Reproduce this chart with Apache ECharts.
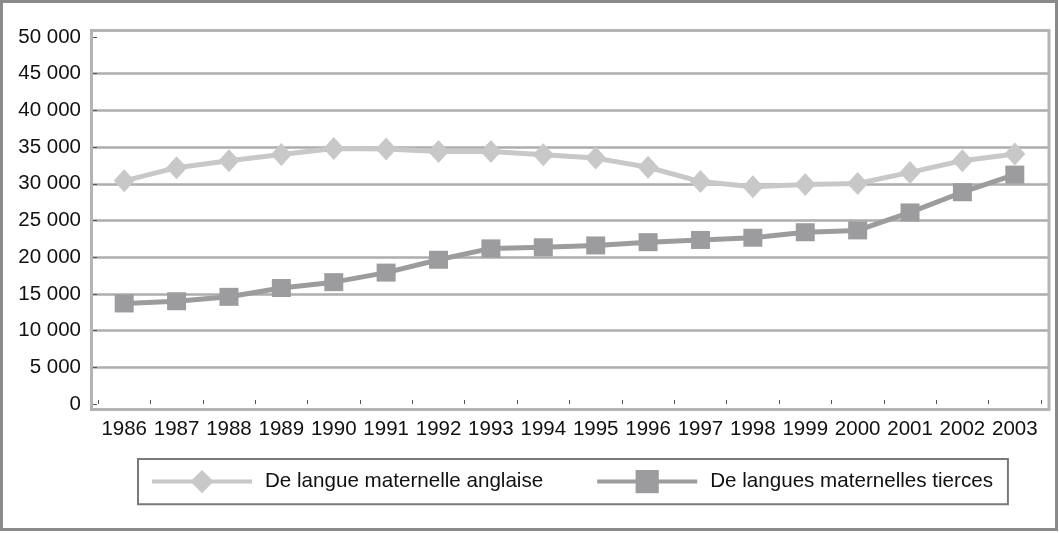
<!DOCTYPE html>
<html>
<head>
<meta charset="utf-8">
<script src="https://cdn.jsdelivr.net/npm/echarts@6/dist/echarts.min.js"></script>
<style>
html,body{margin:0;padding:0;background:#fff;}
#chart{width:1059px;height:533px;}
</style>
</head>
<body>
<div id="chart"></div>
<script>
const years = ['1986','1987','1988','1989','1990','1991','1992','1993','1994','1995','1996','1997','1998','1999','2000','2001','2002','2003'];
const anglaise = [30400,32200,33150,34000,34800,34750,34400,34400,33950,33500,32250,30300,29600,29900,30050,31550,33150,34050];
const tierces = [13700,14000,14600,15800,16600,17900,19650,21200,21350,21600,22050,22350,22650,23400,23650,26100,28850,31250];
const seriesNames = ['De langue maternelle anglaise','De langues maternelles tierces'];
const yMin = 0, yMax = 50000, yStep = 5000;

const fmt = v => String(v).replace(/\B(?=(\d{3})+(?!\d))/g, ' ');
const FONT = '"Liberation Sans", Arial, sans-serif';

const chart = echarts.init(document.getElementById('chart'), null, {renderer:'canvas'});
chart.setOption({
  animation:false,
  backgroundColor:'#ffffff',
  textStyle:{fontFamily:FONT},
  grid:[
    {left:98, right:18, top:37, bottom:129, containLabel:false},
    {left:91, right:11, top:37, bottom:129, containLabel:false}
  ],
  graphic:[
    {type:'rect', shape:{x:1.5, y:1.5, width:1055, height:528}, style:{fill:'none', stroke:'#8a8a8a', lineWidth:3}, z:100},
    {type:'rect', shape:{x:91.5, y:30.5, width:957.5, height:379}, style:{fill:'none', stroke:'#b4b4b4', lineWidth:3}, z:1}
  ],
  xAxis:[
    {type:'category', gridIndex:0, data:years, boundaryGap:true, offset:5,
     axisLine:{show:false},
     axisTick:{show:true, inside:true, length:4, lineStyle:{color:'#555', width:1}},
     axisLabel:{color:'#111', fontSize:20.5, fontFamily:FONT, margin:10, interval:0},
     splitLine:{show:false}},
    {type:'value', gridIndex:1, show:false, min:0, max:1}
  ],
  yAxis:[
    {type:'value', gridIndex:0, min:yMin, max:yMax, interval:yStep, offset:7,
     axisLine:{show:false},
     axisTick:{show:true, inside:true, length:6, lineStyle:{color:'#555', width:1}},
     axisLabel:{color:'#111', fontSize:20.5, fontFamily:FONT, margin:10, formatter:fmt},
     splitLine:{show:false}},
    {type:'value', gridIndex:1, min:yMin, max:yMax, interval:yStep,
     axisLine:{show:false}, axisTick:{show:false}, axisLabel:{show:false},
     splitLine:{show:true, showMinLine:false, showMaxLine:false, lineStyle:{color:'#adadad', width:2.5}}}
  ],
  legend:{
    show:true, left:138, top:459,
    padding:[11,15,11,12],
    borderColor:'#7a7a7a', borderWidth:2,
    itemWidth:100, itemHeight:29, itemGap:52,
    lineStyle:{width:4},
    textStyle:{color:'#111', fontSize:20.6, fontFamily:FONT, padding:[0,0,0,8]},
    data:seriesNames
  },
  series:[
    {name:seriesNames[0], type:'line', xAxisIndex:0, yAxisIndex:0, data:anglaise,
     symbol:'diamond', symbolSize:[21,23],
     lineStyle:{color:'#c8c8c8', width:5}, itemStyle:{color:'#c8c8c8'}, z:3},
    {name:seriesNames[1], type:'line', xAxisIndex:0, yAxisIndex:0, data:tierces,
     symbol:'rect', symbolSize:[19,18],
     lineStyle:{color:'#9c9c9e', width:5}, itemStyle:{color:'#9c9c9e'}, z:4}
  ]
});
</script>
</body>
</html>
